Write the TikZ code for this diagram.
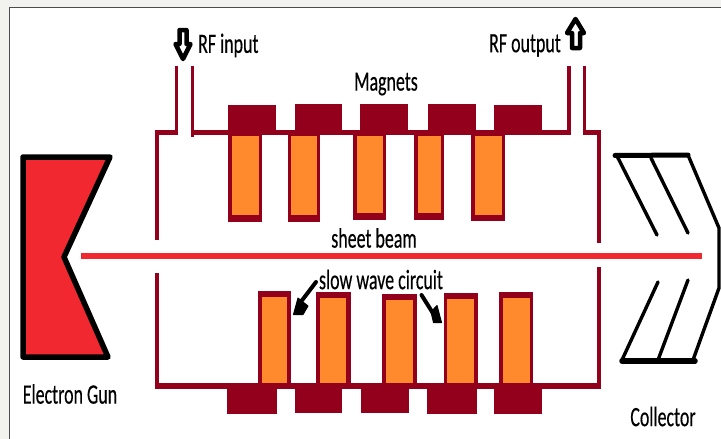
\documentclass[tikz,border=0pt]{standalone}
\usepackage{fontspec}
\setmainfont{Carlito}[FakeBold=0.4]
\definecolor{page}{HTML}{F2F3EE}
\definecolor{maroon}{HTML}{92001C}
\definecolor{hot}{HTML}{F1282F}
\definecolor{amber}{HTML}{FF8A2D}
\tikzset{
  x=1pt,y=-1pt,
  magnet/.style={fill=maroon},
  bar/.style={fill=maroon},
  barin/.style={fill=amber},
  blackline/.style={draw=black,line width=3.4pt,line cap=round,line join=round},
  heavy/.style={draw=black,line width=5.5pt,line cap=round,line join=round},
  lab/.style={font=\fontsize{28}{30}\selectfont,inner sep=0pt,text=black,xscale=.64,transform shape},
  hollow/.style={draw=black,fill=white,line width=4.5pt,line join=round},
  pointer/.style={fill=black,draw=black,line width=1pt,line join=round},
  pointertail/.style={draw=black,line width=4pt,line cap=round},
}
\newcommand{\magblock}[4]{\fill[magnet] (#1,#2) rectangle (#3,#4);}
\newcommand{\barblock}[8]{\fill[bar] (#1,#2) rectangle (#3,#4);\fill[barin] (#5,#6) rectangle (#7,#8);}
\begin{document}
\begin{tikzpicture}
\useasboundingbox (0,0) rectangle (721,439);
\fill[page] (0,0) rectangle (721,439);
\fill[white] (9,7.5) rectangle (721,439);
\draw[black!70,line width=.8pt] (9.5,439) -- (9.5,7.5) -- (721,7.5);
% gun
\draw[heavy,fill=hot] (23,157) -- (110,157) -- (64,257) -- (108,357) -- (23,357) -- cycle;
% housing
\fill[maroon] (155.2,129.5) rectangle (178.3,135.3);
\fill[maroon] (155.2,129.5) rectangle (158.5,240);
\fill[maroon] (175.3,66) rectangle (178.3,135.3);
\fill[maroon] (191.3,66) rectangle (194.3,136.5);
\fill[maroon] (191.3,129.5) rectangle (570.5,135.3);
\fill[maroon] (567,66) rectangle (570.5,135.3);
\fill[maroon] (582.5,66) rectangle (585.5,135.3);
\fill[maroon] (582.5,129.5) rectangle (600.5,135.3);
\fill[maroon] (597,129.5) rectangle (600.5,242.5);
\fill[maroon] (155.2,273) rectangle (158.5,388.7);
\fill[maroon] (597,266.5) rectangle (600.5,388.7);
\fill[maroon] (155.2,382.8) rectangle (600.5,388.7);
% magnets
\magblock{228}{105}{276}{130}
\magblock{294.5}{104}{342.3}{130}
\magblock{360}{104}{408}{130}
\magblock{428}{104}{476}{130}
\magblock{494.3}{105}{541.5}{130}
\magblock{226.7}{388}{276.7}{414}
\magblock{295.3}{388}{342.3}{412.7}
\magblock{361}{388}{409}{412.7}
\magblock{427}{388}{477.3}{414}
\magblock{493.7}{388}{542.3}{414}
% top bars
\barblock{228}{135}{262}{221.5}{231.5}{135.5}{258.5}{214.5}
\barblock{287.5}{135}{320}{221.5}{291}{135.5}{316.5}{214.5}
\barblock{353}{135}{386}{219.5}{356.5}{135.5}{383}{213}
\barblock{414}{135}{444.3}{219.5}{417.5}{135.5}{440.5}{213}
\barblock{471}{135}{505}{221}{474.5}{135.5}{501.5}{215}
% bottom bars
\barblock{258}{290.7}{290.5}{383}{261.5}{296.7}{287}{382.5}
\barblock{316}{291.7}{351}{383}{319.5}{298}{346}{382.5}
\barblock{382}{294.3}{416.5}{383}{385.8}{300}{413}{382.5}
\barblock{443.5}{293}{477.5}{383}{447}{299}{473.5}{382.5}
\barblock{499}{292}{533}{383}{503}{298}{529.5}{382.5}
% beam
\draw[hot,line width=6pt] (81,256) -- (702,256);
% collector
\draw[blackline] (617,156) -- (657,235);
\draw[blackline] (651,158) -- (688,233);
\draw[blackline] (688,155) -- (719,228) -- (719,288) -- (693,360);
\draw[blackline] (658,282) -- (622,360);
\draw[blackline] (688,280) -- (658,360);
\draw[heavy,line width=5pt] (615,155.5) -- (688,155);
\draw[heavy,line width=5.5pt] (622,361) -- (695,361);
% hollow arrows
\draw[hollow] (179.5,30) -- (186.5,30) -- (186.5,44) -- (190.5,44) -- (183,59) -- (175.5,44) -- (179.5,44) -- cycle;
\draw[hollow] (572,48) -- (580,48) -- (580,33) -- (584,33) -- (575.5,19) -- (567,33) -- (572,33) -- cycle;
% pointers
\draw[pointertail] (316,282) -- (300,303);
\fill[pointer] (298,298) -- (293.5,314.5) -- (303,314.5) -- (308,306) -- cycle;
\draw[pointertail] (421.5,295) -- (436,318);
\fill[pointer] (437,305.5) -- (431,312) -- (433.5,322.5) -- (441.5,322.5) -- cycle;
% labels
\node[lab,anchor=west] (rfin) at (198,45.5) {RF input};
\node[lab,anchor=west] (rfout) at (489,45.5) {RF output};
\node[lab] (mag) at (386,84) {Magnets};
\node[lab] (beam) at (374,238) {sheet beam};
\node[lab] (swc) at (381,279.5) {slow wave circuit};
\node[lab] (gun) at (70,394) {Electron Gun};
\node[lab] (coll) at (663,416.5) {Collector};
\end{tikzpicture}
\end{document}
